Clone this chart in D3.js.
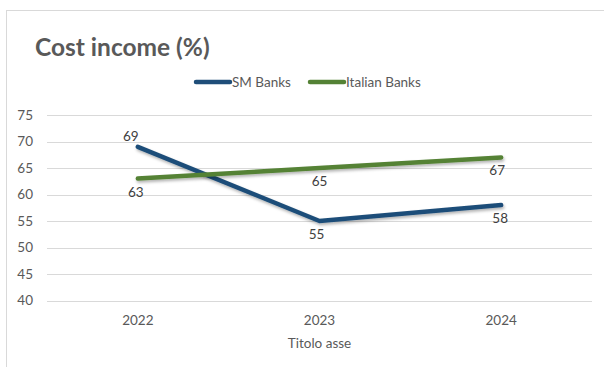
<!DOCTYPE html>
<html>
<head>
<meta charset="utf-8">
<script src="https://cdn.jsdelivr.net/npm/d3@7"></script>
<style>
  html, body { margin: 0; padding: 0; background: #fff; }
  svg { display: block; }
</style>
</head>
<body>
<svg id="chart" width="604" height="367"></svg>
<script>
// Chart data
const years = ["2022", "2023", "2024"];
const smBanks = [69, 55, 58];
const italianBanks = [63, 65, 67];
const yTicks = [40, 45, 50, 55, 60, 65, 70, 75];

const seriesNames = ["SM Banks", "Italian Banks"];
const seriesColors = ["#1F4E79", "#548235"];

// labelPos: -1 = above the point, 1 = below
const series = [
  { name: seriesNames[0], values: smBanks, color: seriesColors[0], labelPos: [-1, 1, 1], dx: [-7, -3, -1] },
  { name: seriesNames[1], values: italianBanks, color: seriesColors[1], labelPos: [1, 1, 1], dx: [-2, 0, -4] }
];

const W = 604, H = 367;
const font = "Lato, 'Open Sans', sans-serif";
const svg = d3.select("#chart");

// Shadow under the lines
const defs = svg.append("defs");
const f = defs.append("filter").attr("id", "shadow").attr("x", "-10%").attr("y", "-50%").attr("width", "120%").attr("height", "200%");
f.append("feDropShadow").attr("dx", 1).attr("dy", 2).attr("stdDeviation", 1.5).attr("flood-color", "#000").attr("flood-opacity", 0.3);

// Chart area frame
svg.append("rect").attr("x", 6.5).attr("y", 10.5).attr("width", W + 10).attr("height", H + 10)
  .attr("fill", "#fff").attr("stroke", "#d9d9d9").attr("stroke-width", 1);

// Title
svg.append("text").attr("x", 35).attr("y", 56)
  .attr("font-family", font).attr("font-weight", 700).attr("font-size", 24.5)
  .attr("fill", "#595959").text("Cost income (%)");

const x = d3.scaleBand().domain(years).range([47, 592]);
const y = d3.scaleLinear().domain([40, 75]).range([300.5, 115]);

// Gridlines
svg.append("g").selectAll("line").data(yTicks).join("line")
  .attr("x1", 47).attr("x2", 592)
  .attr("y1", d => Math.round(y(d)) + 0.5).attr("y2", d => Math.round(y(d)) + 0.5)
  .attr("stroke", "#d9d9d9").attr("stroke-width", 1);

// Y axis labels
const yAxis = d3.axisLeft(y).tickValues(yTicks).tickSize(0).tickPadding(0);
const gy = svg.append("g").attr("transform", "translate(33,0)").call(yAxis);
gy.select(".domain").remove();
gy.selectAll("text").attr("font-family", font).attr("font-size", 13.5).attr("fill", "#595959");

// X axis labels
const xAxis = d3.axisBottom(x).tickSize(0).tickPadding(0);
const gx = svg.append("g").attr("transform", "translate(0,315)").call(xAxis);
gx.select(".domain").remove();
gx.selectAll("text").attr("font-family", font).attr("font-size", 13.5).attr("fill", "#595959");

// Axis title
svg.append("text").attr("x", x("2023") + x.bandwidth() / 2).attr("y", 348)
  .attr("text-anchor", "middle").attr("font-family", font).attr("font-size", 13.5)
  .attr("fill", "#595959").text("Titolo asse");

// Lines
const line = d3.line()
  .x((d, i) => x(years[i]) + x.bandwidth() / 2)
  .y(d => y(d));

svg.append("g").selectAll("path").data(series).join("path")
  .attr("d", d => line(d.values))
  .attr("fill", "none").attr("stroke", d => d.color).attr("stroke-width", 4.5)
  .attr("stroke-linecap", "round").attr("stroke-linejoin", "round")
  .attr("filter", "url(#shadow)");

// Data labels
series.forEach(s => {
  svg.append("g").selectAll("text").data(s.values).join("text")
    .attr("x", (d, i) => x(years[i]) + x.bandwidth() / 2 + s.dx[i])
    .attr("y", (d, i) => s.labelPos[i] < 0 ? y(d) - 6 : y(d) + 18)
    .attr("text-anchor", "middle").attr("font-family", font).attr("font-size", 13.5)
    .attr("fill", "#404040").text(d => d);
});

// Legend
const legendItems = [
  { name: seriesNames[0], color: seriesColors[0], x: 196 },
  { name: seriesNames[1], color: seriesColors[1], x: 310 }
];
const lg = svg.append("g").selectAll("g").data(legendItems).join("g")
  .attr("transform", d => `translate(${d.x},82)`);
lg.append("line").attr("x1", 0).attr("x2", 34).attr("y1", 0).attr("y2", 0)
  .attr("stroke", d => d.color).attr("stroke-width", 4.5).attr("stroke-linecap", "round");
lg.append("text").attr("x", 36).attr("y", 4.5)
  .attr("font-family", font).attr("font-size", 13.5).attr("fill", "#595959")
  .text(d => d.name);
</script>
</body>
</html>
